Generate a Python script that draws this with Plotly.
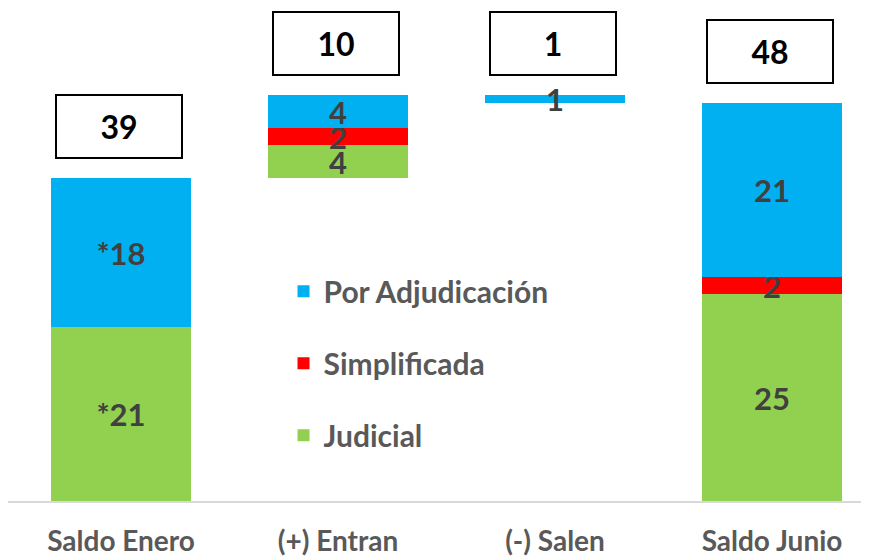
import plotly.graph_objects as go

categories = ["Saldo Enero", "(+) Entran", "(-) Salen", "Saldo Junio"]
base = [0, 39, 48, 0]
judicial = [21, 4, 0, 25]
simplificada = [0, 2, 0, 2]
adjudicacion = [18, 4, 1, 21]
judicial_text = ["*21", "4", "", "25"]
simplificada_text = ["", "2", "", "2"]
adjudicacion_text = ["*18", "4", "1", "21"]
box_values = [39, 10, 1, 48]
box_tops = [39, 49, 49, 48]

FONT = "Lato"
label_font = dict(family=FONT, size=31, color="#404040", weight="bold")

fig = go.Figure()

# invisible base so the middle bars float (waterfall)
fig.add_trace(go.Bar(
    x=categories, y=base, marker_color="rgba(0,0,0,0)", marker_line_width=0,
    showlegend=False, hoverinfo="skip", width=0.645,
))

series = [
    ("Judicial", judicial, judicial_text, "#92D050", 3),
    ("Simplificada", simplificada, simplificada_text, "#FF0000", 2),
    ("Por Adjudicación", adjudicacion, adjudicacion_text, "#00B0F0", 1),
]
for name, vals, txt, color, rank in series:
    fig.add_trace(go.Bar(
        x=categories, y=vals, name=name, marker_color=color, marker_line_width=0,
        text=txt, textposition="inside", insidetextanchor="middle", textangle=0,
        textfont=label_font, constraintext="none", width=0.645,
        legendgroup=name, legendrank=rank,
    ))

for cat, val, top in zip(categories, box_values, box_tops):
    fig.add_annotation(
        x=cat, y=top, yanchor="bottom", yshift=19, xshift=-2, text=str(val), showarrow=False,
        font=dict(family=FONT, size=32, color="#000000", weight="bold"),
        bordercolor="#000000", borderwidth=2, borderpad=0, bgcolor="white",
        width=124, height=61,
    )

fig.update_layout(
    barmode="stack",
    width=861, height=548,
    margin=dict(l=0, r=0, t=0, b=55),
    plot_bgcolor="white", paper_bgcolor="white",
    bargap=0,
    uniformtext=dict(mode="show", minsize=31),
    font=dict(family=FONT, color="#595959"),
    showlegend=True,
    legend=dict(
        x=0.32, y=0.478, xanchor="left", yanchor="top",
        traceorder="grouped", tracegroupgap=30,
        font=dict(family=FONT, size=30, color="#595959", weight="bold"),
        bgcolor="rgba(0,0,0,0)", itemwidth=30,
    ),
)
fig.update_xaxes(
    range=[-0.521, 3.447], showline=True, linecolor="#D9D9D9", linewidth=2,
    ticks="outside", ticklen=14, tickcolor="rgba(0,0,0,0)",
    tickfont=dict(family=FONT, size=28, color="#595959", weight="bold"),
    showgrid=False, zeroline=False, automargin=False,
)
fig.update_yaxes(range=[0, 59.5], visible=False, showgrid=False, zeroline=False)

fig.write_html("out.html")
